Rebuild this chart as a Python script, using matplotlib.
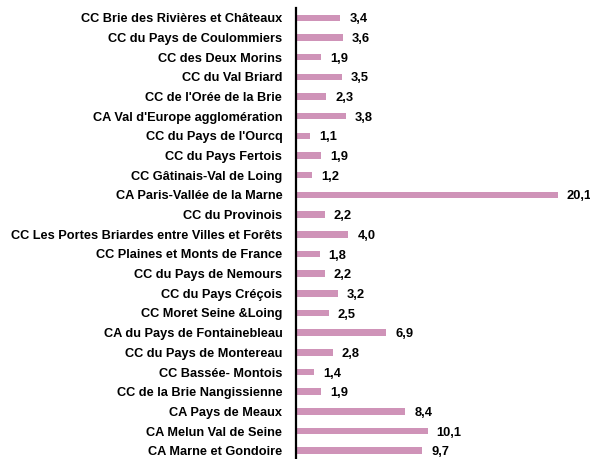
import matplotlib.pyplot as plt

categories = [
    "CC Brie des Rivières et Châteaux",
    "CC du Pays de Coulommiers",
    "CC des Deux Morins",
    "CC du Val Briard",
    "CC de l'Orée de la Brie",
    "CA Val d'Europe agglomération",
    "CC du Pays de l'Ourcq",
    "CC du Pays Fertois",
    "CC Gâtinais-Val de Loing",
    "CA Paris-Vallée de la Marne",
    "CC du Provinois",
    "CC Les Portes Briardes entre Villes et Forêts",
    "CC Plaines et Monts de France",
    "CC du Pays de Nemours",
    "CC du Pays Créçois",
    "CC Moret Seine &Loing",
    "CA du Pays de Fontainebleau",
    "CC du Pays de Montereau",
    "CC Bassée- Montois",
    "CC de la Brie Nangissienne",
    "CA Pays de Meaux",
    "CA Melun Val de Seine",
    "CA Marne et Gondoire",
]
values = [3.4, 3.6, 1.9, 3.5, 2.3, 3.8, 1.1, 1.9, 1.2, 20.1, 2.2, 4.0, 1.8,
          2.2, 3.2, 2.5, 6.9, 2.8, 1.4, 1.9, 8.4, 10.1, 9.7]

plt.rcParams['font.family'] = ['Liberation Sans', 'DejaVu Sans']

fig = plt.figure(figsize=(5.9, 4.59), dpi=100)
ax = fig.add_axes([0.502, 0.0, 0.496, 0.9826])

pos = list(range(len(categories)))
ax.barh(pos, values, height=0.33, color='#CF93B8')
for p, v in zip(pos, values):
    ax.text(v + 0.7, p + 0.08, f"{v:.1f}".replace('.', ','), va='center', ha='left',
            fontsize=9.3, fontweight='bold')

ax.set_yticks(pos)
ax.set_yticklabels(categories, fontsize=9.2, fontweight='bold')
ax.tick_params(axis='y', length=0, pad=10)
ax.set_xticks([])
ax.set_xlim(0, 22.5)
ax.set_ylim(22.42, -0.5)
for s in ['top', 'right', 'bottom']:
    ax.spines[s].set_visible(False)
ax.spines['left'].set_linewidth(1.6)

fig.savefig('out.png', dpi=100)
